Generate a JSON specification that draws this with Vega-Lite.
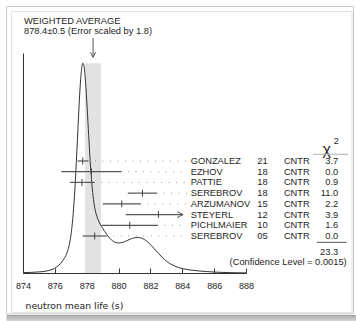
{
  "$schema": "https://vega.github.io/schema/vega-lite/v6.json",
  "width": 223,
  "height": 220,
  "autosize": {"type": "none"},
  "padding": {"left": 23, "top": 53, "right": 110, "bottom": 48},
  "background": "white",
  "config": {
    "view": {"stroke": null},
    "font": "Liberation Sans",
    "text": {"font": "Liberation Sans", "fontSize": 9.3, "color": "#1e1e1e"},
    "axis": {"grid": false},
    "axisX": {
      "domainColor": "#333333",
      "tickColor": "#333333",
      "tickSize": -5,
      "labelFont": "Liberation Sans",
      "labelFontSize": 9,
      "labelColor": "#222222",
      "labelPadding": 17,
      "labelBaseline": "middle",
      "labelFlush": false,
      "labelOverlap": false,
      "titleFont": "DejaVu Sans",
      "titleFontSize": 9.3,
      "titleFontWeight": "normal",
      "titleColor": "#222222",
      "titleAnchor": "start",
      "titleAlign": "left",
      "titleBaseline": "middle",
      "titleX": 2,
      "titleY": 32
    }
  },
  "datasets": {
    "measurements": [
      {"row": 1, "name": "GONZALEZ", "year": "21", "tech": "CNTR", "value": 877.75, "lo": 877.43, "hi": 878.11, "chi2": 3.7},
      {"row": 2, "name": "EZHOV", "year": "18", "tech": "CNTR", "value": 878.3, "lo": 876.41, "hi": 880.19, "chi2": 0.0},
      {"row": 3, "name": "PATTIE", "year": "18", "tech": "CNTR", "value": 877.7, "lo": 876.95, "hi": 878.5, "chi2": 0.9},
      {"row": 4, "name": "SEREBROV", "year": "18", "tech": "CNTR", "value": 881.5, "lo": 880.58, "hi": 882.42, "chi2": 11.0},
      {"row": 5, "name": "ARZUMANOV", "year": "15", "tech": "CNTR", "value": 880.2, "lo": 879.0, "hi": 881.4, "chi2": 2.2},
      {"row": 6, "name": "STEYERL", "year": "12", "tech": "CNTR", "value": 882.5, "lo": 880.45, "hi": 884.55, "chi2": 3.9},
      {"row": 7, "name": "PICHLMAIER", "year": "10", "tech": "CNTR", "value": 880.7, "lo": 878.93, "hi": 882.47, "chi2": 1.6},
      {"row": 8, "name": "SEREBROV", "year": "05", "tech": "CNTR", "value": 878.5, "lo": 877.74, "hi": 879.26, "chi2": 0.0}
    ],
    "ideogram": [
      {"t": 874, "h": 0.022}, {"t": 874.5, "h": 0.039}, {"t": 875, "h": 0.067},
      {"t": 875.5, "h": 0.128}, {"t": 876, "h": 0.301}, {"t": 876.25, "h": 0.483},
      {"t": 876.5, "h": 0.766}, {"t": 876.75, "h": 1.226}, {"t": 876.875, "h": 1.621},
      {"t": 877, "h": 2.273}, {"t": 877.1, "h": 3.106}, {"t": 877.2, "h": 4.319},
      {"t": 877.3, "h": 5.946}, {"t": 877.4, "h": 7.907}, {"t": 877.5, "h": 9.946},
      {"t": 877.6, "h": 11.695}, {"t": 877.7, "h": 12.77}, {"t": 877.75, "h": 12.968},
      {"t": 877.8, "h": 12.922}, {"t": 877.9, "h": 12.146}, {"t": 878, "h": 10.685},
      {"t": 878.1, "h": 8.915}, {"t": 878.2, "h": 7.199}, {"t": 878.3, "h": 5.784},
      {"t": 878.4, "h": 4.75}, {"t": 878.5, "h": 4.06}, {"t": 878.6, "h": 3.619},
      {"t": 878.75, "h": 3.216}, {"t": 879, "h": 2.77}, {"t": 879.25, "h": 2.393},
      {"t": 879.5, "h": 2.097}, {"t": 879.75, "h": 1.916}, {"t": 880, "h": 1.857},
      {"t": 880.25, "h": 1.894}, {"t": 880.5, "h": 1.99}, {"t": 880.75, "h": 2.098},
      {"t": 881, "h": 2.179}, {"t": 881.25, "h": 2.198}, {"t": 881.5, "h": 2.133},
      {"t": 881.75, "h": 1.982}, {"t": 882, "h": 1.76}, {"t": 882.25, "h": 1.493},
      {"t": 882.5, "h": 1.217}, {"t": 882.75, "h": 0.959}, {"t": 883, "h": 0.739},
      {"t": 883.25, "h": 0.566}, {"t": 883.5, "h": 0.436}, {"t": 883.75, "h": 0.342},
      {"t": 884, "h": 0.275}, {"t": 884.5, "h": 0.188}, {"t": 885, "h": 0.131},
      {"t": 885.5, "h": 0.09}, {"t": 886, "h": 0.059}, {"t": 886.5, "h": 0.037},
      {"t": 887, "h": 0.022}, {"t": 887.5, "h": 0.012}, {"t": 888, "h": 0.007}
    ]
  },
  "layer": [
    {
      "data": {"values": [{}]},
      "mark": {"type": "rect", "filled": false, "color": "#c8c8c8", "strokeWidth": 1},
      "encoding": {
        "x": {"datum": 872.964, "type": "quantitative", "title": "neutron mean life (s)", "axis": {"values": [874, 876, 878, 880, 882, 884, 886, 888]}},
        "x2": {"datum": 894.748},
        "y": {"datum": 16.475, "type": "quantitative", "axis": null, "scale": {"domain": [0, 13.6], "nice": false, "zero": false}},
        "y2": {"datum": -2.535}
      }
    },
    {
      "data": {"values": [{}]},
      "mark": {"type": "rect", "filled": false, "color": "#e2e2e2", "strokeWidth": 1},
      "encoding": {
        "x": {"datum": 873.278, "type": "quantitative", "title": "neutron mean life (s)", "axis": {"values": [874, 876, 878, 880, 882, 884, 886, 888]}},
        "x2": {"datum": 894.654},
        "y": {"datum": 16.166, "type": "quantitative", "axis": null, "scale": {"domain": [0, 13.6], "nice": false, "zero": false}},
        "y2": {"datum": -2.442}
      }
    },
    {
      "data": {"values": [{}]},
      "mark": {
        "type": "rect",
        "fill": {
          "gradient": "linear", "x1": 0, "y1": 0, "x2": 0, "y2": 1,
          "stops": [{"offset": 0, "color": "#a6a6a6"}, {"offset": 1, "color": "#d4d4d4"}]
        }
      },
      "encoding": {
        "x": {"datum": 872.964, "type": "quantitative", "title": "neutron mean life (s)", "axis": {"values": [874, 876, 878, 880, 882, 884, 886, 888]}},
        "x2": {"datum": 894.905},
        "y": {"datum": -2.596, "type": "quantitative", "axis": null, "scale": {"domain": [0, 13.6], "nice": false, "zero": false}},
        "y2": {"datum": -2.967}
      }
    },
    {
      "data": {"values": [{}]},
      "mark": {"type": "rect", "color": "#e2e2e2"},
      "encoding": {
        "x": {"datum": 877.9, "type": "quantitative", "title": "neutron mean life (s)", "axis": {"values": [874, 876, 878, 880, 882, 884, 886, 888]}},
        "x2": {"datum": 878.9},
        "y": {"datum": 0, "type": "quantitative", "axis": null, "scale": {"domain": [0, 13.6], "nice": false, "zero": false}},
        "y2": {"datum": 12.97}
      }
    },
    {
      "data": {"name": "ideogram"},
      "mark": {"type": "line", "color": "#333333", "strokeWidth": 1, "interpolate": "monotone"},
      "encoding": {
        "x": {
          "field": "t", "type": "quantitative", "title": "neutron mean life (s)",
          "scale": {"domain": [874, 888], "nice": false, "zero": false},
          "axis": {"values": [874, 876, 878, 880, 882, 884, 886, 888]}
        },
        "y": {
          "field": "h", "type": "quantitative",
          "scale": {"domain": [0, 13.6], "nice": false, "zero": false},
          "axis": {"title": null, "labels": false, "ticks": false, "domainColor": "#333333"}
        }
      }
    },
    {
      "data": {"name": "measurements"},
      "transform": [{"filter": "datum.hi <= 884"}],
      "mark": {"type": "rule", "color": "#9a9a9a", "strokeWidth": 1, "strokeDash": [1, 6.5], "strokeDashOffset": 1},
      "encoding": {
        "x": {"field": "hi", "type": "quantitative", "title": "neutron mean life (s)", "axis": {"values": [874, 876, 878, 880, 882, 884, 886, 888]}},
        "x2": {"datum": 884.3},
        "y": {"field": "row", "type": "quantitative", "axis": null, "scale": {"domain": [1, 8], "range": [108, 183], "nice": false, "zero": false}}
      }
    },
    {
      "data": {"name": "measurements"},
      "transform": [{"filter": "datum.hi <= 884"}],
      "mark": {"type": "rule", "color": "#555555", "strokeWidth": 1.2},
      "encoding": {
        "x": {"field": "lo", "type": "quantitative", "title": "neutron mean life (s)", "axis": {"values": [874, 876, 878, 880, 882, 884, 886, 888]}},
        "x2": {"field": "hi"},
        "y": {"field": "row", "type": "quantitative", "axis": null, "scale": {"domain": [1, 8], "range": [108, 183], "nice": false, "zero": false}}
      }
    },
    {
      "data": {"name": "measurements"},
      "transform": [{"filter": "datum.hi > 884"}],
      "mark": {"type": "rule", "color": "#555555", "strokeWidth": 1.2},
      "encoding": {
        "x": {"field": "lo", "type": "quantitative", "title": "neutron mean life (s)", "axis": {"values": [874, 876, 878, 880, 882, 884, 886, 888]}},
        "x2": {"datum": 884.05},
        "y": {"field": "row", "type": "quantitative", "axis": null, "scale": {"domain": [1, 8], "range": [108, 183], "nice": false, "zero": false}}
      }
    },
    {
      "data": {"name": "measurements"},
      "transform": [{"filter": "datum.hi > 884"}],
      "mark": {"type": "point", "shape": "M -2 -1 L 0 0 L -2 1", "size": 36, "filled": false, "color": "#555555", "strokeWidth": 1, "opacity": 1},
      "encoding": {
        "x": {"datum": 884.05, "type": "quantitative", "title": "neutron mean life (s)", "axis": {"values": [874, 876, 878, 880, 882, 884, 886, 888]}},
        "y": {"field": "row", "type": "quantitative", "axis": null, "scale": {"domain": [1, 8], "range": [108, 183], "nice": false, "zero": false}}
      }
    },
    {
      "data": {"name": "measurements"},
      "mark": {"type": "tick", "orient": "vertical", "size": 7, "thickness": 1, "color": "#444444", "opacity": 1},
      "encoding": {
        "x": {"field": "value", "type": "quantitative", "title": "neutron mean life (s)", "axis": {"values": [874, 876, 878, 880, 882, 884, 886, 888]}},
        "y": {"field": "row", "type": "quantitative", "axis": null, "scale": {"domain": [1, 8], "range": [108, 183], "nice": false, "zero": false}}
      }
    },
    {
      "data": {"name": "measurements"},
      "mark": {"type": "text", "align": "left", "baseline": "middle"},
      "encoding": {
        "x": {"datum": 884.53, "type": "quantitative", "title": "neutron mean life (s)", "axis": {"values": [874, 876, 878, 880, 882, 884, 886, 888]}},
        "y": {"field": "row", "type": "quantitative", "axis": null, "scale": {"domain": [1, 8], "range": [108, 183], "nice": false, "zero": false}},
        "text": {"field": "name"}
      }
    },
    {
      "data": {"name": "measurements"},
      "mark": {"type": "text", "align": "left", "baseline": "middle"},
      "encoding": {
        "x": {"datum": 888.71, "type": "quantitative", "title": "neutron mean life (s)", "axis": {"values": [874, 876, 878, 880, 882, 884, 886, 888]}},
        "y": {"field": "row", "type": "quantitative", "axis": null, "scale": {"domain": [1, 8], "range": [108, 183], "nice": false, "zero": false}},
        "text": {"field": "year"}
      }
    },
    {
      "data": {"name": "measurements"},
      "mark": {"type": "text", "align": "left", "baseline": "middle"},
      "encoding": {
        "x": {"datum": 890.38, "type": "quantitative", "title": "neutron mean life (s)", "axis": {"values": [874, 876, 878, 880, 882, 884, 886, 888]}},
        "y": {"field": "row", "type": "quantitative", "axis": null, "scale": {"domain": [1, 8], "range": [108, 183], "nice": false, "zero": false}},
        "text": {"field": "tech"}
      }
    },
    {
      "data": {"name": "measurements"},
      "mark": {"type": "text", "align": "right", "baseline": "middle"},
      "encoding": {
        "x": {"datum": 893.79, "type": "quantitative", "title": "neutron mean life (s)", "axis": {"values": [874, 876, 878, 880, 882, 884, 886, 888]}},
        "y": {"field": "row", "type": "quantitative", "axis": null, "scale": {"domain": [1, 8], "range": [108, 183], "nice": false, "zero": false}},
        "text": {"field": "chi2", "type": "quantitative", "format": ".1f"}
      }
    },
    {
      "data": {"values": [{}]},
      "mark": {"type": "text", "text": "χ", "fontSize": 16, "align": "center", "baseline": "middle"},
      "encoding": {
        "x": {"datum": 893.06, "type": "quantitative", "title": "neutron mean life (s)", "axis": {"values": [874, 876, 878, 880, 882, 884, 886, 888]}},
        "y": {"datum": -0.03, "type": "quantitative", "axis": null, "scale": {"domain": [1, 8], "range": [108, 183], "nice": false, "zero": false}}
      }
    },
    {
      "data": {"values": [{}]},
      "mark": {"type": "text", "text": "2", "fontSize": 9, "align": "center", "baseline": "middle"},
      "encoding": {
        "x": {"datum": 893.66, "type": "quantitative", "title": "neutron mean life (s)", "axis": {"values": [874, 876, 878, 880, 882, 884, 886, 888]}},
        "y": {"datum": -0.9, "type": "quantitative", "axis": null, "scale": {"domain": [1, 8], "range": [108, 183], "nice": false, "zero": false}}
      }
    },
    {
      "data": {"values": [{}]},
      "mark": {"type": "rule", "color": "#b0b0b0", "strokeWidth": 1},
      "encoding": {
        "x": {"datum": 892.2, "type": "quantitative", "title": "neutron mean life (s)", "axis": {"values": [874, 876, 878, 880, 882, 884, 886, 888]}},
        "x2": {"datum": 894.4},
        "y": {"datum": 0.375, "type": "quantitative", "axis": null, "scale": {"domain": [1, 8], "range": [108, 183], "nice": false, "zero": false}}
      }
    },
    {
      "data": {"values": [{}]},
      "mark": {"type": "rule", "color": "#555555", "strokeWidth": 1},
      "encoding": {
        "x": {"datum": 892.44, "type": "quantitative", "title": "neutron mean life (s)", "axis": {"values": [874, 876, 878, 880, 882, 884, 886, 888]}},
        "x2": {"datum": 894.32},
        "y": {"datum": 8.59, "type": "quantitative", "axis": null, "scale": {"domain": [1, 8], "range": [108, 183], "nice": false, "zero": false}}
      }
    },
    {
      "data": {"values": [{}]},
      "mark": {"type": "text", "text": "23.3", "align": "right", "baseline": "middle"},
      "encoding": {
        "x": {"datum": 893.79, "type": "quantitative", "title": "neutron mean life (s)", "axis": {"values": [874, 876, 878, 880, 882, 884, 886, 888]}},
        "y": {"datum": 9.47, "type": "quantitative", "axis": null, "scale": {"domain": [1, 8], "range": [108, 183], "nice": false, "zero": false}}
      }
    },
    {
      "data": {"values": [{}]},
      "mark": {"type": "text", "text": "(Confidence Level = 0.0015)", "align": "right", "baseline": "middle"},
      "encoding": {
        "x": {"datum": 894.32, "type": "quantitative", "title": "neutron mean life (s)", "axis": {"values": [874, 876, 878, 880, 882, 884, 886, 888]}},
        "y": {"datum": 10.4, "type": "quantitative", "axis": null, "scale": {"domain": [1, 8], "range": [108, 183], "nice": false, "zero": false}}
      }
    },
    {
      "data": {"values": [{}]},
      "mark": {"type": "text", "text": "WEIGHTED AVERAGE", "align": "left", "baseline": "middle"},
      "encoding": {
        "x": {"datum": 874.06, "type": "quantitative", "title": "neutron mean life (s)", "axis": {"values": [874, 876, 878, 880, 882, 884, 886, 888]}},
        "y": {"datum": -12.11, "type": "quantitative", "axis": null, "scale": {"domain": [1, 8], "range": [108, 183], "nice": false, "zero": false}}
      }
    },
    {
      "data": {"values": [{}]},
      "mark": {"type": "text", "text": "878.4±0.5 (Error scaled by 1.8)", "align": "left", "baseline": "middle"},
      "encoding": {
        "x": {"datum": 874.06, "type": "quantitative", "title": "neutron mean life (s)", "axis": {"values": [874, 876, 878, 880, 882, 884, 886, 888]}},
        "y": {"datum": -11.09, "type": "quantitative", "axis": null, "scale": {"domain": [1, 8], "range": [108, 183], "nice": false, "zero": false}}
      }
    },
    {
      "data": {"values": [{}]},
      "mark": {"type": "rule", "color": "#555555", "strokeWidth": 1},
      "encoding": {
        "x": {"datum": 878.4, "type": "quantitative", "title": "neutron mean life (s)", "axis": {"values": [874, 876, 878, 880, 882, 884, 886, 888]}},
        "y": {"datum": -10.48, "type": "quantitative", "axis": null, "scale": {"domain": [1, 8], "range": [108, 183], "nice": false, "zero": false}},
        "y2": {"datum": -8.68}
      }
    },
    {
      "data": {"values": [{}]},
      "mark": {"type": "point", "shape": "M -1 -2 L 0 0 L 1 -2", "size": 25, "filled": false, "color": "#555555", "strokeWidth": 1, "opacity": 1},
      "encoding": {
        "x": {"datum": 878.4, "type": "quantitative", "title": "neutron mean life (s)", "axis": {"values": [874, 876, 878, 880, 882, 884, 886, 888]}},
        "y": {"datum": -8.68, "type": "quantitative", "axis": null, "scale": {"domain": [1, 8], "range": [108, 183], "nice": false, "zero": false}}
      }
    }
  ],
  "resolve": {"scale": {"y": "independent"}}
}
